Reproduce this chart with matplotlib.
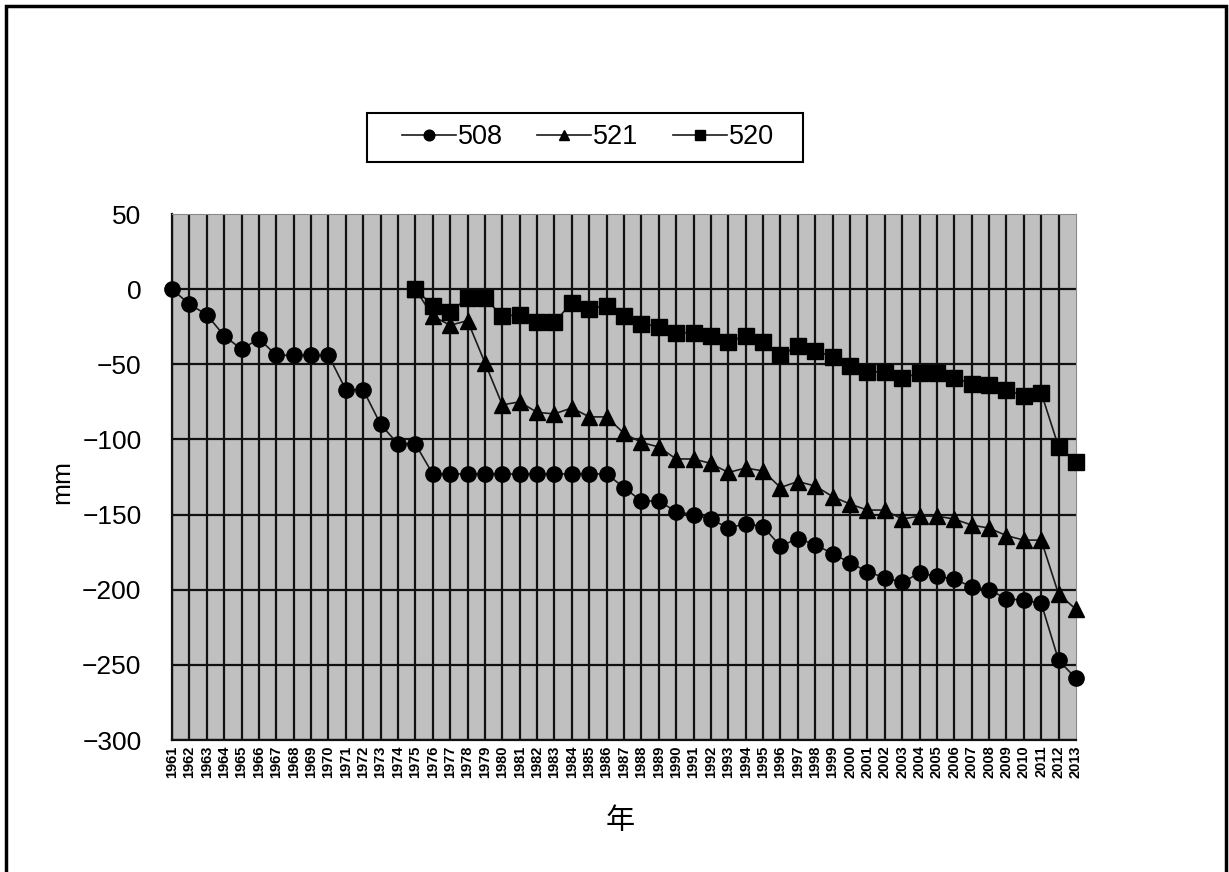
import matplotlib as mpl
import matplotlib.pyplot as plt
import numpy as np
from matplotlib.patches import Rectangle

mpl.rcParams['font.family'] = ['Liberation Sans', 'Noto Sans CJK JP', 'DejaVu Sans']

years = list(range(1961, 2014))

# Settlement per benchmark, mm (508 from 1961, 521 and 520 from 1975)
s508 = [0, -10, -17, -31, -40, -33, -44, -44, -44, -44,
        -67, -67, -90, -103, -103, -123, -123, -123, -123, -123,
        -123, -123, -123, -123, -123, -123, -132, -141, -141, -148,
        -150, -153, -159, -156, -158, -171, -166, -170, -176, -182,
        -188, -192, -195, -189, -191, -193, -198, -200, -206, -207,
        -209, -247, -259]
s521 = [0, -18, -24, -21, -49, -77, -75, -82, -83, -79,
        -85, -85, -96, -102, -105, -113, -113, -116, -122, -119,
        -121, -132, -128, -131, -138, -143, -147, -147, -153, -151,
        -151, -153, -157, -159, -164, -167, -167, -203, -213]
s520 = [0, -11, -15, -6, -6, -18, -17, -22, -22, -9,
        -13, -11, -18, -23, -25, -29, -29, -31, -35, -31,
        -35, -44, -38, -41, -45, -51, -55, -55, -59, -56,
        -56, -59, -63, -64, -67, -71, -69, -105, -115]

series = [("508", s508, 'o'), ("521", s521, '^'), ("520", s520, 's')]
y_ticks = [50, 0, -50, -100, -150, -200, -250, -300]

W, H = 1229, 872
fig = plt.figure(figsize=(W / 100, H / 100), dpi=100)
ax = fig.add_axes([172 / W, 1 - 740 / H, 904 / W, 526 / H])
ax.set_facecolor('#c0c0c0')

x = np.arange(len(years))
for name, vals, marker in series:
    xs = x[len(years) - len(vals):]
    ax.plot(xs, vals, color='#1a1a1a', lw=1.2, marker=marker,
            markersize=11, markerfacecolor='black', markeredgecolor='black',
            label=name, clip_on=False, zorder=3)

ax.set_xlim(0, len(years) - 1)
ax.set_ylim(-300, 50)
ax.set_xticks(x)
ax.set_xticklabels([str(y) for y in years], rotation=90, fontsize=10.5,
                   fontweight='bold')
ax.set_yticks(y_ticks)
ax.tick_params(axis='y', length=0, pad=22, labelsize=19)
ax.tick_params(axis='x', length=0, pad=4)

ax.grid(True, color='#111111', lw=1.6)
ax.set_axisbelow(True)
# the outer edges at 2013 and +50 are drawn by the light frame only
ax.get_xgridlines()[-1].set_visible(False)
ax.get_ygridlines()[0].set_visible(False)
for side in ['top', 'right']:
    ax.spines[side].set_color('#8a8a8a')
for side in ['left', 'bottom']:
    ax.spines[side].set_color('#111111')
    ax.spines[side].set_linewidth(1.6)

ax.set_ylabel("mm", fontsize=19)
ax.yaxis.set_label_coords(-0.108, 0.49)
ax.set_xlabel("年", fontsize=21, family=['Noto Sans CJK JP'])
ax.xaxis.set_label_coords(0.496, -0.125)

leg = fig.legend(loc='center', bbox_to_anchor=(588 / W, 1 - 137.5 / H),
                 ncol=3, fontsize=19.5, markerscale=0.7, handlelength=2.0,
                 handletextpad=0.08, columnspacing=1.25, frameon=False)

# legend box, wider than the entries on both sides
fig.patches.append(Rectangle((367 / W, 1 - 162 / H), 436 / W, 49 / H,
                             transform=fig.transFigure, fill=False,
                             edgecolor='black', lw=1.5))

# outer frame around the chart area
fig.patches.append(Rectangle((6 / W, -0.05), 1220 / W, 1.05 - 6 / H,
                             transform=fig.transFigure, fill=False,
                             edgecolor='black', lw=2.5, clip_on=False))

plt.savefig("out.png", dpi=100)
